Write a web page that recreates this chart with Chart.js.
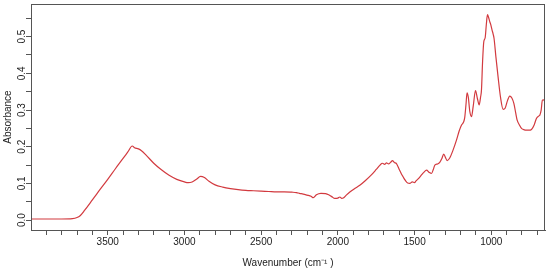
<!DOCTYPE html>
<html lang="en">
<head>
    <meta charset="UTF-8">
    <title>FTIR Absorbance Spectrum</title>
    <script src="https://cdn.jsdelivr.net/npm/chart.js"></script>
    <style>
        body {
            margin: 0;
            background: #fff;
        }
        canvas {
            display: block;
        }
    </style>
</head>
<body>
    <canvas id="myChart" width="550" height="273"></canvas>

    <script>
        // spectrum (wavenumber in cm-1, absorbance)
        const wavenumbers = [
            4000, 3900, 3800, 3730, 3700, 3680, 3650, 3600, 3572, 3500, 3450, 3400, 3370, 3340, 3325, 3300,
            3280, 3250, 3200, 3150, 3100, 3050, 3000, 2975, 2950, 2920, 2895, 2870, 2840, 2800, 2750, 2700,
            2650, 2600, 2550, 2500, 2450, 2400, 2350, 2300, 2270, 2250, 2226, 2200, 2175, 2160, 2140, 2110,
            2080, 2060, 2040, 2020, 2000, 1987, 1975, 1965, 1945, 1920, 1890, 1857, 1820, 1780, 1750, 1725,
            1710, 1695, 1683, 1670, 1655, 1644, 1632, 1618, 1600, 1585, 1575, 1560, 1545, 1531, 1515, 1500,
            1492, 1475, 1455, 1440, 1422, 1405, 1390, 1378, 1368, 1350, 1336, 1322, 1310, 1298, 1288, 1270,
            1250, 1227, 1210, 1194, 1180, 1173, 1165, 1158, 1150, 1140, 1129, 1118, 1103, 1090, 1079, 1070,
            1064, 1057, 1049, 1040, 1032, 1025, 1018, 1010, 1003, 995, 988, 982, 970, 956, 940, 923,
            910, 895, 880, 866, 853, 840, 832, 815, 803, 785, 771, 755, 738, 720, 706, 690,
            684, 675, 667, 660, 652
        ];
        const absorbance = [
            0.003, 0.003, 0.003, 0.004, 0.007, 0.012, 0.027, 0.055, 0.071, 0.111, 0.140, 0.168, 0.185, 0.202, 0.197, 0.194,
            0.189, 0.177, 0.155, 0.137, 0.122, 0.111, 0.104, 0.102, 0.104, 0.112, 0.119, 0.116, 0.106, 0.096, 0.090, 0.086,
            0.083, 0.081, 0.080, 0.079, 0.078, 0.077, 0.077, 0.076, 0.075, 0.073, 0.071, 0.068, 0.065, 0.061, 0.069, 0.073,
            0.072, 0.069, 0.064, 0.059, 0.060, 0.063, 0.059, 0.060, 0.068, 0.077, 0.086, 0.095, 0.108, 0.124, 0.138, 0.150,
            0.155, 0.152, 0.156, 0.153, 0.158, 0.162, 0.157, 0.154, 0.138, 0.125, 0.118, 0.108, 0.101, 0.100, 0.104, 0.102,
            0.106, 0.113, 0.123, 0.130, 0.136, 0.130, 0.127, 0.138, 0.150, 0.153, 0.157, 0.168, 0.180, 0.170, 0.162, 0.170,
            0.190, 0.218, 0.242, 0.259, 0.268, 0.280, 0.315, 0.347, 0.335, 0.296, 0.282, 0.310, 0.353, 0.330, 0.314, 0.335,
            0.355, 0.430, 0.486, 0.497, 0.535, 0.560, 0.553, 0.541, 0.532, 0.518, 0.507, 0.495, 0.445, 0.391, 0.335, 0.302,
            0.305, 0.325, 0.338, 0.333, 0.318, 0.290, 0.273, 0.258, 0.250, 0.246, 0.245, 0.245, 0.247, 0.260, 0.277, 0.284,
            0.286, 0.300, 0.327, 0.328, 0.323
        ];

        // axis ticks
        const xTickLabels = [3500, 3000, 2500, 2000, 1500, 1000];
        const yTickLabels = ['0.0', '0.1', '0.2', '0.3', '0.4', '0.5'];

        const axisColor = '#555';
        const textColor = '#222';

        // box round the plot region, like R's box()
        const frame = {
            id: 'frame',
            afterDraw(chart) {
                const { ctx, chartArea } = chart;
                ctx.save();
                ctx.strokeStyle = axisColor;
                ctx.lineWidth = 1;
                ctx.strokeRect(chartArea.left + 0.5, chartArea.top + 0.5,
                    chartArea.right - chartArea.left - 1, chartArea.bottom - chartArea.top);
                ctx.restore();
            }
        };

        const points = wavenumbers.map((w, i) => ({ x: w, y: absorbance[i] }));

        const ctx = document.getElementById('myChart').getContext('2d');
        const myChart = new Chart(ctx, {
            type: 'line',
            data: {
                datasets: [{
                    label: 'Absorbance',
                    data: points,
                    borderColor: '#d23a3f',
                    borderWidth: 1.2,
                    pointRadius: 0,
                    cubicInterpolationMode: 'monotone',
                    fill: false
                }]
            },
            options: {
                responsive: false,
                animation: false,
                layout: { padding: { top: 4, right: 5, left: 0, bottom: 0 } },
                plugins: {
                    legend: { display: false },
                    tooltip: { enabled: false }
                },
                scales: {
                    x: {
                        type: 'linear',
                        position: 'bottom',
                        reverse: true,
                        min: 650,
                        max: 4000,
                        afterFit(scale) { scale.height = 43; },
                        afterBuildTicks(scale) {
                            scale.ticks = scale.ticks.filter(t => t.value >= 700 && t.value <= 3900);
                        },
                        grid: {
                            drawOnChartArea: false,
                            tickLength: 5,
                            tickColor: axisColor
                        },
                        border: { color: axisColor },
                        ticks: {
                            stepSize: 100,
                            includeBounds: false,
                            autoSkip: false,
                            maxRotation: 0,
                            padding: 1,
                            color: textColor,
                            font: { family: 'Liberation Sans, Arial, sans-serif', size: 10 },
                            callback: v => xTickLabels.includes(v) ? String(v) : ''
                        },
                        title: {
                            display: true,
                            text: 'Wavenumber (cm\u207B\u00B9 )',
                            color: textColor,
                            padding: { top: 4, bottom: 4 },
                            font: { family: 'Liberation Sans, Arial, sans-serif', size: 10 }
                        }
                    },
                    y: {
                        type: 'linear',
                        min: -0.027,
                        max: 0.589,
                        afterFit(scale) { scale.width = 31; },
                        afterBuildTicks(scale) {
                            scale.ticks = scale.ticks.filter(t => t.value >= -0.001 && t.value <= 0.551);
                        },
                        grid: {
                            drawOnChartArea: false,
                            tickLength: 5,
                            tickColor: axisColor
                        },
                        border: { color: axisColor },
                        ticks: {
                            stepSize: 0.05,
                            includeBounds: false,
                            autoSkip: false,
                            minRotation: 90,
                            maxRotation: 90,
                            crossAlign: 'center',
                            padding: -3,
                            color: textColor,
                            font: { family: 'Liberation Sans, Arial, sans-serif', size: 10 },
                            callback: v => {
                                const k = Math.round(v * 100);
                                return k % 10 === 0 ? yTickLabels[k / 10] : '';
                            }
                        },
                        title: {
                            display: true,
                            text: 'Absorbance',
                            color: textColor,
                            padding: { top: 2, bottom: 2 },
                            font: { family: 'Liberation Sans, Arial, sans-serif', size: 10 }
                        }
                    }
                }
            },
            plugins: [frame]
        });
    </script>
</body>
</html>
